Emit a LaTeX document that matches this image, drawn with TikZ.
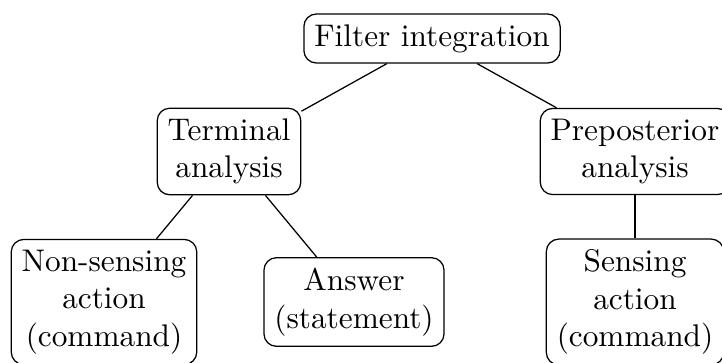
\documentclass[tikz,border=0pt]{standalone}
\begin{document}
\begin{tikzpicture}[x=0.3195pt,y=-0.3195pt,
  box/.style={draw,rounded corners=4pt,align=center,inner sep=3.33pt}]
\useasboundingbox (0,0) rectangle (722,362);
\node[box] (fi) at (432,38.5) {Filter integration};
\node[box] (ta) at (229,151.5) {Terminal\\analysis};
\node[box] (pa) at (635,151.5) {Preposterior\\analysis};
\node[box] (ns) at (104,302) {Non-sensing\\action\\(command)};
\node[box] (an) at (354,302) {Answer\\(statement)};
\node[box] (sa) at (635,302) {Sensing\\action\\(command)};
\draw (fi) -- (ta);
\draw (fi) -- (pa);
\draw (ta) -- (ns);
\draw (ta) -- (an);
\draw (pa) -- (sa);
\end{tikzpicture}
\end{document}
